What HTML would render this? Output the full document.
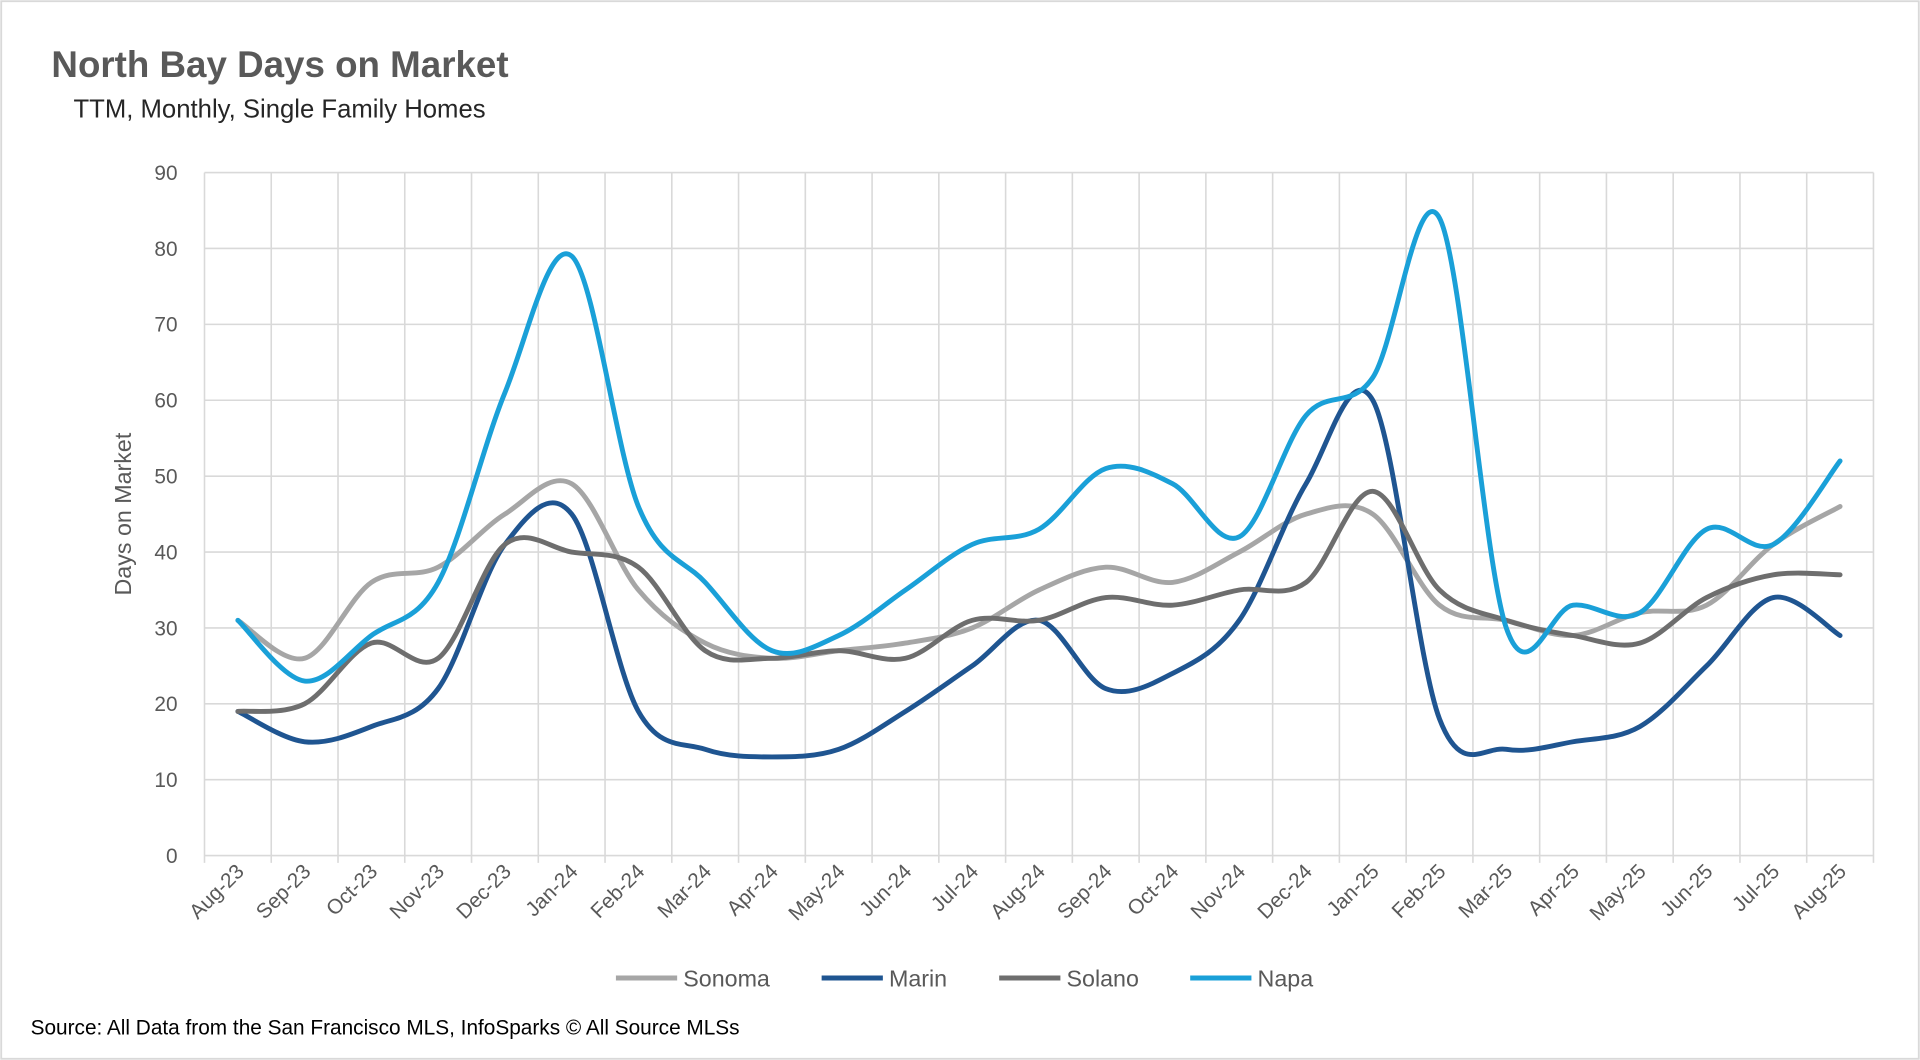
<!DOCTYPE html>
<html><head><meta charset="utf-8"><style>
html,body{margin:0;padding:0;background:#fff}
svg{display:block;font-family:"Liberation Sans",sans-serif}
</style></head><body>
<svg id="chart" width="1920" height="1060" viewBox="0 0 1568 866" preserveAspectRatio="none">
<rect x="1" y="1" width="1566" height="864" fill="#fff" stroke="#d9d9d9" stroke-width="1.5"/>
<text x="42" y="63" font-size="30" font-weight="bold" fill="#595959">North Bay Days on Market</text>
<text x="60" y="96" font-size="21" fill="#262626">TTM, Monthly, Single Family Homes</text>
<text transform="translate(107,420) rotate(-90)" text-anchor="middle" font-size="19" fill="#595959">Days on Market</text>
<text x="25" y="845" font-size="17" fill="#000">Source: All Data from the San Francisco MLS, InfoSparks © All Source MLSs</text>
<g id="grid"></g><g id="series"></g><g id="axes"></g><g id="legend"></g>
</svg>
<script>
const months=["Aug-23","Sep-23","Oct-23","Nov-23","Dec-23","Jan-24","Feb-24","Mar-24","Apr-24","May-24","Jun-24","Jul-24","Aug-24","Sep-24","Oct-24","Nov-24","Dec-24","Jan-25","Feb-25","Mar-25","Apr-25","May-25","Jun-25","Jul-25","Aug-25"];
const yTicks=[0,10,20,30,40,50,60,70,80,90];
const sonoma=[31,26,36,38,45,49,35,28,26,27,28,30,35,38,36,40,45,45,33,31,29,32,33,41,46];
const marin=[19,15,17,22,41,45,19,14,13,14,19,25,31,22,24,31,49,60,18,14,15,17,25,34,29];
const solano=[19,20,28,26,41,40,38,27,26,27,26,31,31,34,33,35,36,48,35,31,29,28,34,37,37];
const napa=[31,23,29,36,61,79,46,36,27,29,35,41,43,51,49,42,58,63,84,30,33,32,43,41,52];
const seriesNames=["Sonoma","Marin","Solano","Napa"];
const seriesColors=["#a6a6a6","#1f5591","#6e6e6e","#1aa0d8"];
const seriesData=[sonoma,marin,solano,napa];

const NS="http://www.w3.org/2000/svg";
const L=167,R=1530,T=141,B=699,YMAX=90;
const band=(R-L)/months.length;
const xs=i=>L+band*(i+0.5);
const ys=v=>B-(v/YMAX)*(B-T);
function mk(tag,attrs,parent){const e=document.createElementNS(NS,tag);for(const k in attrs)e.setAttribute(k,attrs[k]);parent.appendChild(e);return e;}
const grid=document.getElementById('grid'),axes=document.getElementById('axes'),ser=document.getElementById('series'),leg=document.getElementById('legend');
yTicks.forEach(t=>{
  const g=mk('line',{x1:L,x2:R,y1:ys(t),y2:ys(t),stroke:'#d9d9d9','stroke-width':1.3},grid);
  
  
  const tx=mk('text',{x:145,y:ys(t)+6,'text-anchor':'end','font-size':17,fill:'#595959'},axes);
  tx.textContent=t;
  
  
});
for(let i=0;i<=months.length;i++){
  const x=L+band*i;
  const g=mk('line',{x1:x,x2:x,y1:T,y2:B+6,stroke:'#d9d9d9','stroke-width':1.3},grid);
  
  
}
months.forEach((m,i)=>{
  const x=xs(i)+6,y=B+14;
  const tx=mk('text',{transform:`translate(${x},${y}) rotate(-45)`,'text-anchor':'end','font-size':17,fill:'#595959'},axes);
  tx.textContent=m;
  
  
});
function smooth(data){
  const p=data.map((v,i)=>[xs(i),ys(v)]);
  let d=`M${p[0][0]},${p[0][1]}`;
  const k=1/6;
  for(let i=0;i<p.length-1;i++){
    const p0=p[i-1]||p[i],p1=p[i],p2=p[i+1],p3=p[i+2]||p2;
    d+=` C${p1[0]+(p2[0]-p0[0])*k},${p1[1]+(p2[1]-p0[1])*k} ${p2[0]-(p3[0]-p1[0])*k},${p2[1]-(p3[1]-p1[1])*k} ${p2[0]},${p2[1]}`;
  }
  return d;
}
seriesData.forEach((s,j)=>{
  const path=mk('path',{d:smooth(s),fill:'none',stroke:seriesColors[j],'stroke-width':4,'stroke-linejoin':'round','stroke-linecap':'round'},ser);
  
  
});
const legX=[503,671,816,972];
seriesNames.forEach((n,j)=>{
  const g=mk('g',{},leg);
  
  
  mk('line',{x1:legX[j],x2:legX[j]+50,y1:799,y2:799,stroke:seriesColors[j],'stroke-width':4},g);
  const t=mk('text',{x:legX[j]+55,y:806,'font-size':19,fill:'#595959'},g);
  t.textContent=n;
});
</script>
</body></html>
